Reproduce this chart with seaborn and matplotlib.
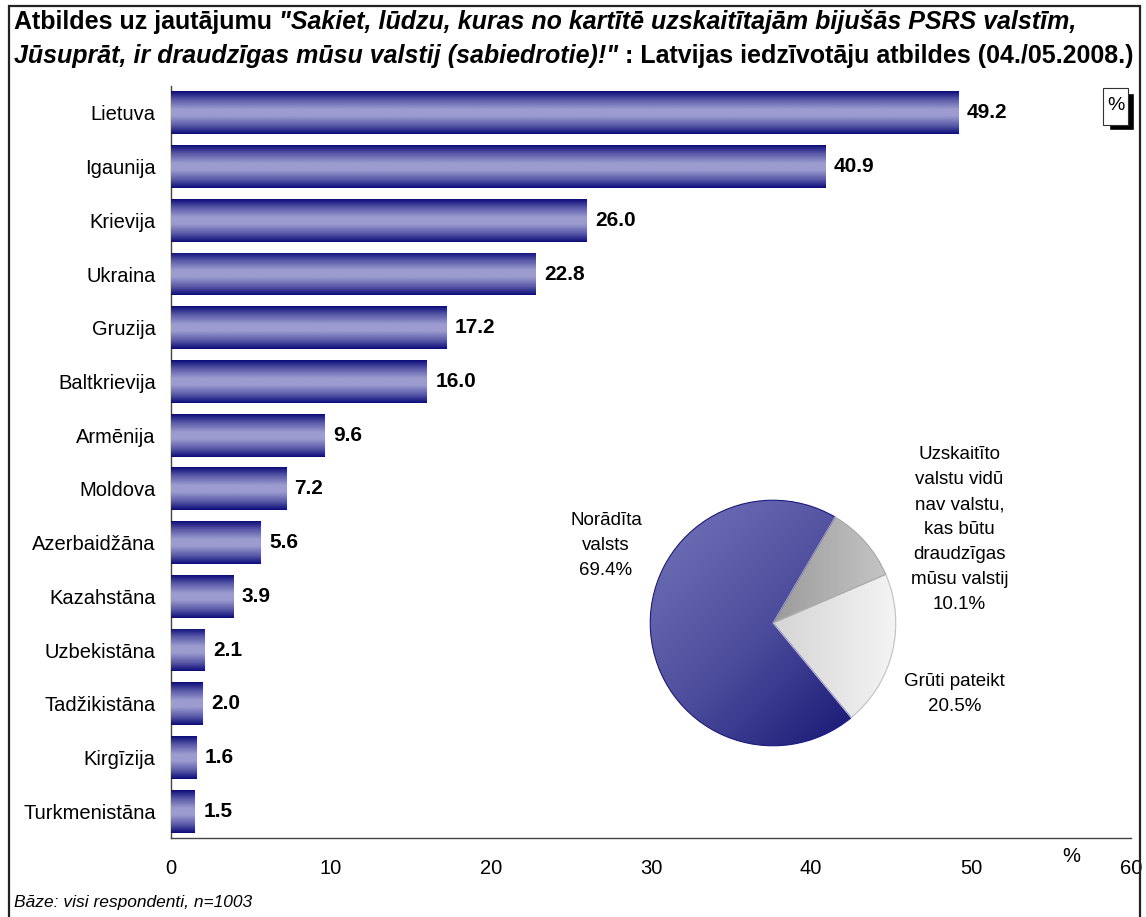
import numpy as np
import pandas as pd
import seaborn as sns
import matplotlib.pyplot as plt
from matplotlib.colors import LinearSegmentedColormap
from matplotlib.patches import Rectangle

# dati
valstis = ["Lietuva", "Igaunija", "Krievija", "Ukraina", "Gruzija", "Baltkrievija",
           "Armēnija", "Moldova", "Azerbaidžāna", "Kazahstāna", "Uzbekistāna",
           "Tadžikistāna", "Kirgīzija", "Turkmenistāna"]
procenti = [49.2, 40.9, 26.0, 22.8, 17.2, 16.0, 9.6, 7.2, 5.6, 3.9, 2.1, 2.0, 1.6, 1.5]

pie_labels = ["Norādīta\nvalsts\n69.4%", "Grūti pateikt\n20.5%",
              "Uzskaitīto\nvalstu vidū\nnav valstu,\nkas būtu\ndraudzīgas\nmūsu valstij\n10.1%"]
pie_values = [69.4, 20.5, 10.1]

x_ticks = [0, 10, 20, 30, 40, 50, 60]

sns.set_style("white")
plt.rcParams['font.family'] = ['Liberation Sans', 'DejaVu Sans']
plt.rcParams['text.color'] = 'black'
plt.rcParams['xtick.color'] = 'black'
plt.rcParams['ytick.color'] = 'black'

W, H = 1146, 917
fig = plt.figure(figsize=(W / 100, H / 100), dpi=100)

def px(x, y, w, h):
    # pikseļi (no augšas) -> figūras koordinātes
    return [x / W, 1 - (y + h) / H, w / W, h / H]

# galvenais grafiks
ax = fig.add_axes(px(171, 86, 960, 752))
df = pd.DataFrame({"valsts": valstis, "proc": procenti})
sns.barplot(data=df, x="proc", y="valsts", orient="h", color="#6666aa", width=0.8, ax=ax)

bar_cmap = LinearSegmentedColormap.from_list(
    "bar", [(0, "#0b0b7a"), (0.2, "#5a5aa8"), (0.42, "#9c9cd0"), (0.58, "#9c9cd0"),
            (0.8, "#5a5aa8"), (1, "#0b0b7a")])
grad = np.linspace(0, 1, 256).reshape(-1, 1)
for p in ax.patches:
    x0, y0, w, h = p.get_x(), p.get_y(), p.get_width(), p.get_height()
    im = ax.imshow(grad, cmap=bar_cmap, aspect="auto", extent=[x0, x0 + w, y0 + h, y0],
                   zorder=3, interpolation="bilinear")
    im.set_clip_path(p)

for c in ax.containers:
    ax.bar_label(c, fmt="%.1f", padding=6, fontsize=15, fontweight="bold", zorder=5)

ax.set_xlim(0, 60)
ax.set_ylim(13.5, -0.5)
ax.set_xticks(x_ticks)
ax.set_xlabel("")
ax.set_ylabel("")
ax.tick_params(axis="x", direction="out", length=5, width=1, pad=10, labelsize=14.5,
               color="#444")
ax.tick_params(axis="y", which="major", length=0, pad=11, labelsize=14.5)
ax.set_yticks(np.arange(-0.5, 14, 1), minor=True)
ax.tick_params(axis="y", which="minor", direction="out", length=5, width=1, color="#444")
ax.spines["top"].set_visible(False)
ax.spines["right"].set_visible(False)
for s in ["left", "bottom"]:
    ax.spines[s].set_color("#444")
    ax.spines[s].set_linewidth(1)
fig.text(1071 / W, 1 - 857 / H, "%", fontsize=14.5, ha="center", va="center")

# pīrāgs
R = 124
pax = fig.add_axes(px(773 - R, 623 - R, 2 * R, 2 * R))
wedges, _ = pax.pie(pie_values, startangle=59.7, counterclock=True,
                    colors=["#4a4a9a", "#dcdcdc", "#a0a0a0"],
                    wedgeprops=dict(linewidth=0.8))
pax.set_aspect("equal")
pax.axis("off")

xx, yy = np.meshgrid(np.linspace(-1, 1, 300), np.linspace(1, -1, 300))
diag = (xx - yy + 2) / 4
horiz = (xx + 1) / 2
c1 = LinearSegmentedColormap.from_list("c1", ["#7575bb", "#4c4c9c", "#0c0c6c"])
c2 = LinearSegmentedColormap.from_list("c2", ["#b4b4b4", "#f4f4f4"])
c3 = LinearSegmentedColormap.from_list("c3", ["#6e6e6e", "#c8c8c8"])
for wdg, arr, cm, ec in zip(wedges, [diag, horiz, horiz], [c1, c2, c3],
                            ["#1a1a80", "#c0c0c0", "#a8a8a8"]):
    wdg.set_edgecolor(ec)
    im = pax.imshow(arr, cmap=cm, extent=[-1, 1, -1, 1], zorder=0.5,
                    interpolation="bilinear", vmin=0, vmax=1)
    im.set_clip_path(wdg)
    wdg.set_facecolor("none")
    wdg.set_zorder(2)
pax.set_xlim(-1.01, 1.01)
pax.set_ylim(-1.01, 1.01)

lab_pos = [(-1.36, 0.63), (1.48, -0.58), (1.52, 0.76)]
for lab, (lx, ly) in zip(pie_labels, lab_pos):
    pax.text(lx, ly, lab, ha="center", va="center", fontsize=13.5,
             linespacing=1.62, clip_on=False)

# virsraksts
fs_t = 18
y1, y2 = 1 - 29 / H, 1 - 63 / H
t1 = fig.text(14 / W, y1, "Atbildes uz jautājumu ", fontsize=fs_t,
              fontweight="bold", va="baseline")
t3 = fig.text(14 / W, y2, "Jūsuprāt, ir draudzīgas mūsu valstij (sabiedrotie)!\"",
              fontsize=fs_t, fontweight="bold", style="italic", va="baseline")
fig.canvas.draw()
fig.text(t1.get_window_extent().x1 / W, y1,
         "\"Sakiet, lūdzu, kuras no kartītē uzskaitītajām bijušās PSRS valstīm,",
         fontsize=fs_t, fontweight="bold", style="italic", va="baseline")
fig.text(t3.get_window_extent().x1 / W, y2, " : Latvijas iedzīvotāju atbildes (04./05.2008.)",
         fontsize=fs_t, fontweight="bold", va="baseline")

# "%" lodziņš ar ēnu
fig.patches.append(Rectangle((1109 / W, 1 - 130 / H), 25 / W, 37 / H,
                             transform=fig.transFigure, facecolor="black", zorder=1))
fig.patches.append(Rectangle((1103 / W, 1 - 125 / H), 25 / W, 37 / H,
                             transform=fig.transFigure, facecolor="white",
                             edgecolor="#333", linewidth=0.8, zorder=2))
fig.text(1115.5 / W, 1 - 105 / H, "%", fontsize=14, ha="center", va="center", zorder=3)

# rāmis
fig.patches.append(Rectangle((9 / W, -0.01), 1131 / W, 1 - 6 / H + 0.01,
                             transform=fig.transFigure, facecolor="none",
                             edgecolor="#222", linewidth=1.6, zorder=0))

fig.text(14 / W, 1 - 903 / H, "Bāze: visi respondenti, n=1003", fontsize=12.5,
         style="italic", va="center")

fig.savefig("out.png", dpi=100)
